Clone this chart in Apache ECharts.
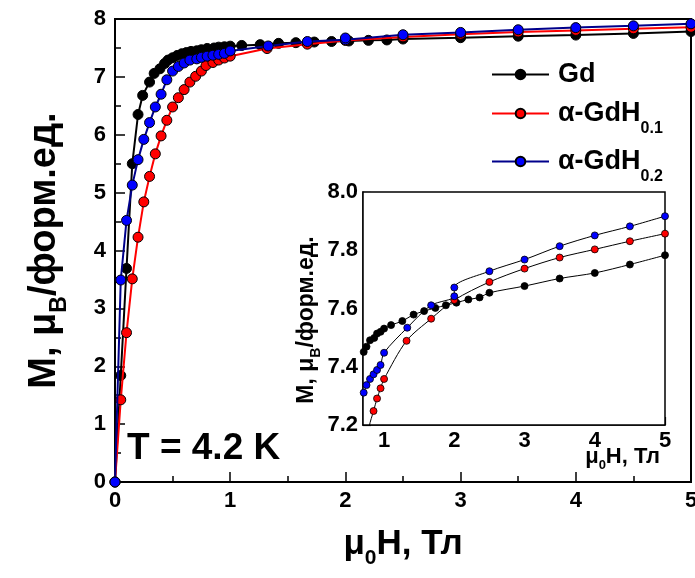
<!DOCTYPE html>
<html>
<head>
<meta charset="utf-8">
<script src="https://cdn.jsdelivr.net/npm/echarts@6/dist/echarts.min.js"></script>
<style>html,body{margin:0;padding:0;background:#fff}#c{width:695px;height:578px}</style>
</head>
<body>
<div id="c"></div>
<script>
// ---- data ----
const fieldGd = [0, 0.05, 0.1, 0.15, 0.2, 0.24, 0.3, 0.34, 0.39, 0.43, 0.46, 0.5, 0.54, 0.58, 0.62, 0.66, 0.71, 0.75, 0.8, 0.86, 0.9, 0.95, 1.0, 1.1, 1.26, 1.42, 1.57, 1.73, 1.88, 2.03, 2.2, 2.36, 2.5, 3, 3.5, 4, 4.5, 5];
const magGd   = [0, 1.84, 3.69, 5.50, 6.35, 6.68, 6.91, 7.06, 7.14, 7.23, 7.29, 7.33, 7.37, 7.40, 7.42, 7.44, 7.451, 7.469, 7.491, 7.499, 7.514, 7.52, 7.531, 7.543, 7.557, 7.579, 7.591, 7.602, 7.611, 7.62, 7.631, 7.638, 7.654, 7.677, 7.703, 7.722, 7.751, 7.783];

const fieldH01 = [0, 0.05, 0.1, 0.15, 0.2, 0.25, 0.3, 0.35, 0.4, 0.45, 0.5, 0.55, 0.6, 0.65, 0.7, 0.75, 0.79, 0.85, 0.9, 0.95, 1.0, 1.32, 1.67, 2.0, 2.5, 3, 3.5, 4, 4.5, 5];
const magH01   = [0, 1.42, 2.58, 3.51, 4.23, 4.84, 5.28, 5.67, 5.98, 6.25, 6.48, 6.64, 6.78, 6.91, 7.01, 7.10, 7.196, 7.248, 7.291, 7.326, 7.358, 7.489, 7.565, 7.629, 7.691, 7.737, 7.775, 7.803, 7.831, 7.857];

const fieldH02 = [0, 0.05, 0.1, 0.15, 0.2, 0.25, 0.3, 0.35, 0.4, 0.45, 0.5, 0.55, 0.6, 0.65, 0.71, 0.75, 0.8, 0.85, 0.9, 0.95, 1.0, 1.33, 1.67, 2.0, 2.0, 2.5, 3, 3.5, 4, 4.5, 5];
const magH02   = [0, 3.49, 4.52, 5.13, 5.57, 5.92, 6.21, 6.48, 6.70, 6.95, 7.10, 7.18, 7.24, 7.29, 7.311, 7.337, 7.358, 7.374, 7.389, 7.406, 7.448, 7.534, 7.611, 7.642, 7.672, 7.728, 7.768, 7.814, 7.851, 7.882, 7.917];

const seriesNames = ['Gd', 'α-GdH0.1', 'α-GdH0.2'];
const legendMain = ['Gd', 'α-GdH', 'α-GdH'];
const legendSub = ['', '0.1', '0.2'];
const insetXTicks = [1, 2, 3, 4, 5];
const insetXMinorTicks = [1.5, 2.5, 3.5, 4.5];

// ---- styles ----
const FONT = 'Liberation Sans, Arial, sans-serif';
const zip = (xs, ys) => xs.map((x, i) => [x, ys[i]]);
const dataSets = [zip(fieldGd, magGd), zip(fieldH01, magH01), zip(fieldH02, magH02)];
const lineColors = ['#000000', '#ff0000', '#00008b'];
const fillColors = ['#000000', '#ff0000', '#0000ff'];

// legend layout
const LEG_LEFT = 486, LEG_ICON_W = 57, LEG_FONT = 27, LEG_TEXT_PAD = 4;
const legendCenters = [74, 113, 161];
const textStartX = LEG_LEFT + 5 + LEG_ICON_W + 5 + LEG_TEXT_PAD;
const measureCtx = document.createElement('canvas').getContext('2d');
measureCtx.font = 'bold ' + LEG_FONT + 'px "Liberation Sans"';

const legends = seriesNames.map((nm, i) => ({
  data: [nm],
  orient: 'vertical',
  left: LEG_LEFT,
  top: legendCenters[i] - LEG_FONT / 2 - 5 + 0.5,
  itemWidth: LEG_ICON_W, itemHeight: 12,
  selectedMode: false,
  formatter: () => '{t|' + legendMain[i] + '}',
  textStyle: { rich: { t: { fontFamily: FONT, fontWeight: 'bold', fontSize: LEG_FONT, color: '#000',
    padding: [0, 0, 0, LEG_TEXT_PAD] } } }
}));
const legendSubGraphics = [1, 2].map(i => ({
  type: 'text', z: 30,
  left: textStartX + measureCtx.measureText(legendMain[i]).width + 1,
  top: legendCenters[i] + 8,
  style: { text: legendSub[i], font: 'bold 16px ' + FONT, fill: '#000' }
}));

const mainSeries = dataSets.map((d, i) => ({
  name: seriesNames[i],
  type: 'line',
  xAxisIndex: 0, yAxisIndex: 0,
  data: d,
  symbol: 'circle',
  symbolSize: 10,
  lineStyle: { color: lineColors[i], width: 2 },
  itemStyle: { color: fillColors[i], borderColor: '#000', borderWidth: 1 },
  emphasis: { disabled: true },
  z: 2 + i
}));
const insetSeries = dataSets.map((d, i) => ({
  name: seriesNames[i] + ' (inset)',
  type: 'line',
  xAxisIndex: 1, yAxisIndex: 1,
  data: d,
  symbol: 'circle',
  symbolSize: 7,
  smooth: 0.3,
  clip: true,
  lineStyle: { color: '#000', width: 1 },
  itemStyle: { color: fillColors[i], borderColor: '#000', borderWidth: 0.8 },
  emphasis: { disabled: true },
  z: 12 + i
}));

const chart = echarts.init(document.getElementById('c'), null, { renderer: 'canvas' });
chart.setOption({
  animation: false,
  backgroundColor: '#fff',
  grid: [
    { left: 115, right: 4, top: 19, bottom: 96, outerBoundsMode: 'none', containLabel: false,
      show: true, borderColor: '#000', borderWidth: 2, backgroundColor: 'transparent', z: 0 },
    { left: 363, right: 30, top: 192, bottom: 153, outerBoundsMode: 'none', containLabel: false,
      show: true, borderColor: '#000', borderWidth: 1.5, backgroundColor: '#fff', z: 10 }
  ],
  xAxis: [
    {
      type: 'value', gridIndex: 0, min: 0, max: 5, interval: 1,
      axisLine: { show: true, lineStyle: { color: '#000', width: 2 } },
      axisTick: { inside: true, length: 10, lineStyle: { color: '#000', width: 1.5 } },
      minorTick: { show: true, splitNumber: 2, length: 6, lineStyle: { color: '#000', width: 1.5 } },
      splitLine: { show: false },
      axisLabel: { fontFamily: FONT, fontWeight: 'bold', fontSize: 22, color: '#000', margin: 8 },
      name: '{a|μ}{s|0}{a|H, Тл}', nameLocation: 'middle', nameGap: 37,
      nameTextStyle: { rich: {
        a: { fontFamily: FONT, fontWeight: 'bold', fontSize: 35, color: '#000', lineHeight: 50 },
        s: { fontFamily: FONT, fontWeight: 'bold', fontSize: 21, color: '#000', verticalAlign: 'bottom' }
      } }
    },
    {
      type: 'value', gridIndex: 1, min: 0.7, max: 5,
      axisLine: { show: true, lineStyle: { color: '#000', width: 1.5 } },
      axisTick: { inside: true, length: 8, customValues: insetXTicks, lineStyle: { color: '#000', width: 1.2 } },
      splitLine: { show: false },
      axisLabel: { customValues: insetXTicks, fontFamily: FONT, fontWeight: 'bold', fontSize: 22, color: '#000', margin: 5 }
    },
    {
      type: 'value', gridIndex: 1, min: 0.7, max: 5,
      axisLine: { show: false },
      axisTick: { inside: true, length: 4, customValues: insetXMinorTicks, lineStyle: { color: '#000', width: 1.2 } },
      axisLabel: { show: false },
      splitLine: { show: false }
    }
  ],
  yAxis: [
    {
      type: 'value', gridIndex: 0, min: 0, max: 8, interval: 1,
      axisLine: { show: true, lineStyle: { color: '#000', width: 2 } },
      axisTick: { inside: true, length: 10, lineStyle: { color: '#000', width: 1.5 } },
      minorTick: { show: true, splitNumber: 2, length: 6, lineStyle: { color: '#000', width: 1.5 } },
      splitLine: { show: false },
      axisLabel: { fontFamily: FONT, fontWeight: 'bold', fontSize: 22, color: '#000', margin: 9 },
      name: '{a|M, μ}{s|B}{a|/форм.ед.}', nameLocation: 'middle', nameGap: 44, nameRotate: 90,
      nameTextStyle: { rich: {
        a: { fontFamily: FONT, fontWeight: 'bold', fontSize: 38, color: '#000', lineHeight: 52 },
        s: { fontFamily: FONT, fontWeight: 'bold', fontSize: 23, color: '#000', verticalAlign: 'bottom' }
      } }
    },
    {
      type: 'value', gridIndex: 1, min: 7.2, max: 8.0, interval: 0.2,
      axisLine: { show: true, lineStyle: { color: '#000', width: 1.5 } },
      axisTick: { inside: true, length: 8, lineStyle: { color: '#000', width: 1.2 } },
      minorTick: { show: true, splitNumber: 2, length: 4, lineStyle: { color: '#000', width: 1.2 } },
      splitLine: { show: false },
      axisLabel: { fontFamily: FONT, fontWeight: 'bold', fontSize: 22, color: '#000', margin: 5,
        formatter: v => v.toFixed(1) }
    }
  ],
  legend: legends,
  graphic: [
    { type: 'text', left: 127, top: 430, z: 20,
      style: { text: 'T = 4.2 K', font: 'bold 37px ' + FONT, fill: '#000' } },
    { type: 'text', right: 35, top: 446, z: 20,
      style: { text: '{a|μ}{s|0}{a|H, Тл}', rich: {
        a: { fontFamily: FONT, fontWeight: 'bold', fontSize: 22, fill: '#000', lineHeight: 30 },
        s: { fontFamily: FONT, fontWeight: 'bold', fontSize: 13, fill: '#000', verticalAlign: 'bottom' }
      } } },
    { type: 'text', x: 307, y: 320, rotation: Math.PI / 2, z: 20,
      style: { text: '{a|M, μ}{s|B}{a|/форм.ед.}', align: 'center', verticalAlign: 'middle', rich: {
        a: { fontFamily: FONT, fontWeight: 'bold', fontSize: 23, fill: '#000', lineHeight: 32 },
        s: { fontFamily: FONT, fontWeight: 'bold', fontSize: 14, fill: '#000', verticalAlign: 'bottom' }
      } } }
  ].concat(legendSubGraphics),
  series: mainSeries.concat(insetSeries)
});
</script>
</body>
</html>
